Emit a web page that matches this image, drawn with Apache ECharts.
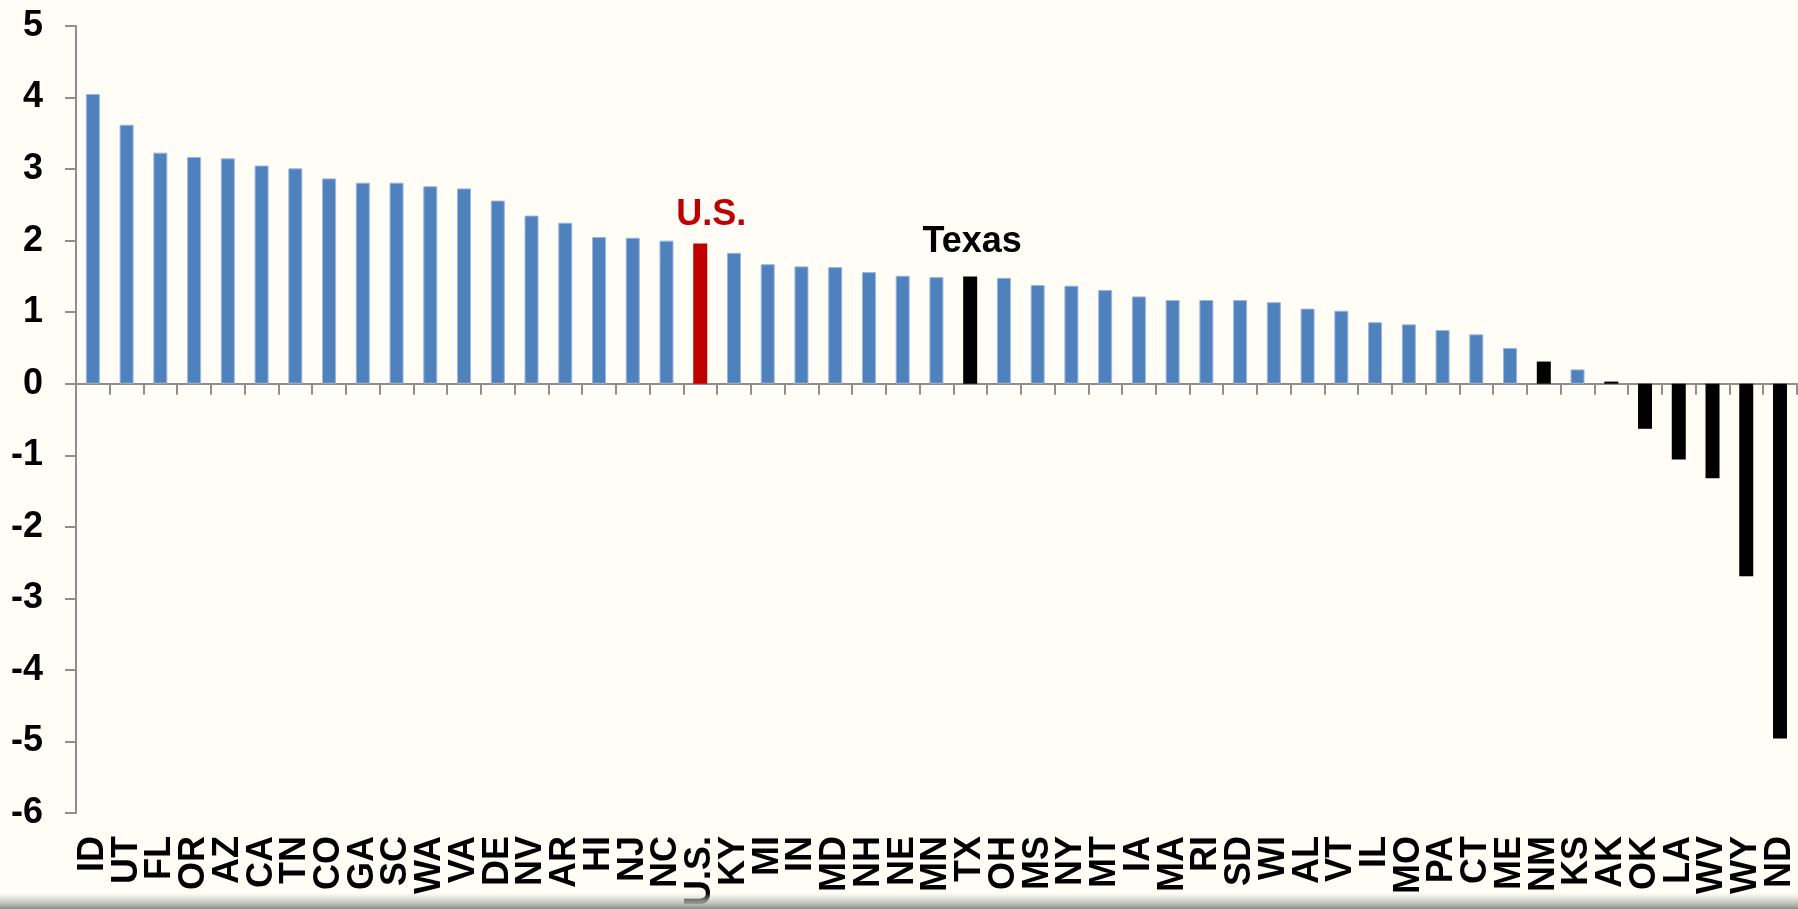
<!DOCTYPE html>
<html>
<head>
<meta charset="utf-8">
<script src="https://cdn.jsdelivr.net/npm/echarts@6/dist/echarts.min.js"></script>
<style>
  html, body { margin: 0; padding: 0; background: #FFFDF6; }
  #chart { width: 1798px; height: 909px; }
</style>
</head>
<body>
<div id="chart"></div>
<script>
const states = [
  'ID', 'UT', 'FL', 'OR', 'AZ', 'CA', 'TN', 'CO', 'GA', 'SC', 'WA', 'VA', 'DE',
  'NV', 'AR', 'HI', 'NJ', 'NC', 'U.S.', 'KY', 'MI', 'IN', 'MD', 'NH', 'NE', 'MN',
  'TX', 'OH', 'MS', 'NY', 'MT', 'IA', 'MA', 'RI', 'SD', 'WI', 'AL', 'VT', 'IL',
  'MO', 'PA', 'CT', 'ME', 'NM', 'KS', 'AK', 'OK', 'LA', 'WV', 'WY', 'ND',
];

const growth = [
  4.05, 3.62, 3.23, 3.17, 3.15, 3.05, 3.01, 2.87, 2.81, 2.81, 2.76, 2.73, 2.56,
  2.35, 2.25, 2.05, 2.04, 2.00, 1.96, 1.83, 1.67, 1.64, 1.63, 1.56, 1.51, 1.49,
  1.50, 1.48, 1.38, 1.37, 1.31, 1.22, 1.17, 1.17, 1.17, 1.14, 1.05, 1.02, 0.86,
  0.83, 0.75, 0.69, 0.50, 0.31, 0.20, 0.03, -0.63, -1.06, -1.32, -2.69, -4.96,
];

const yTicks = [-6, -5, -4, -3, -2, -1, 0, 1, 2, 3, 4, 5];

// states drawn in black, and the two bars with a name above them
const blackStates = ['TX', 'NM', 'AK', 'OK', 'LA', 'WV', 'WY', 'ND'];
const usName = 'U.S.';
const texasName = 'Texas';

const FONT = '"Liberation Sans", Arial, sans-serif';
const BLUE = '#4F81BD';
const RED = '#C00000';

function buildBars() {
  return growth.map((value, i) => {
    const state = states[i];
    if (state === usName) {
      return {
        value,
        itemStyle: { color: RED, borderWidth: 0 },
        label: {
          show: true,
          formatter: usName,
          position: 'top',
          distance: 10,
          offset: [11, 0],
          color: RED,
        },
      };
    }
    if (blackStates.includes(state)) {
      const item = { value, itemStyle: { color: '#000', borderWidth: 0 } };
      if (state === 'TX') {
        item.label = {
          show: true,
          formatter: texasName,
          position: 'top',
          distance: 16,
          offset: [2, 0],
          color: '#000',
        };
      }
      return item;
    }
    return value;
  });
}

const chart = echarts.init(document.getElementById('chart'));

chart.setOption({
  backgroundColor: '#FFFDF6',
  animation: false,
  textStyle: { fontFamily: FONT },
  grid: { left: 76, right: 1, top: 26, bottom: 92 },
  xAxis: [
    {
      // line and ticks sitting on zero
      type: 'category',
      data: states,
      axisLine: { onZero: true, lineStyle: { color: '#8E8E8E', width: 2 } },
      axisTick: { show: true, length: 11, lineStyle: { color: '#8E8E8E', width: 2 } },
      axisLabel: { show: false },
      splitLine: { show: false },
    },
    {
      // state names along the bottom
      type: 'category',
      data: states,
      position: 'bottom',
      axisLine: { show: false, onZero: false },
      axisTick: { show: false },
      axisLabel: {
        show: true,
        interval: 0,
        rotate: 90,
        margin: 23,
        color: '#000',
        fontSize: 36,
        fontWeight: 'bold',
        fontFamily: FONT,
      },
    },
  ],
  yAxis: {
    type: 'value',
    min: yTicks[0],
    max: yTicks[yTicks.length - 1],
    interval: 1,
    axisLine: { show: true, lineStyle: { color: '#8E8E8E', width: 2 } },
    axisTick: { show: true, length: 11, lineStyle: { color: '#8E8E8E', width: 2 } },
    splitLine: { show: false },
    axisLabel: {
      margin: 33,
      color: '#000',
      fontSize: 36,
      fontWeight: 'bold',
      fontFamily: FONT,
    },
  },
  series: [
    {
      type: 'bar',
      xAxisIndex: 0,
      data: buildBars(),
      barWidth: 14,
      itemStyle: { color: BLUE, borderColor: '#9BB7DD', borderWidth: 1 },
      label: { fontSize: 36, fontWeight: 'bold', fontFamily: FONT },
    },
  ],
  graphic: [
    {
      // soft grey strip along the bottom edge
      type: 'rect',
      left: 0,
      bottom: 0,
      z: 100,
      shape: { width: 1798, height: 16 },
      style: {
        fill: new echarts.graphic.LinearGradient(0, 0, 0, 1, [
          { offset: 0, color: 'rgba(200,200,195,0)' },
          { offset: 0.5, color: 'rgba(190,190,185,0.7)' },
          { offset: 1, color: 'rgba(140,140,135,1)' },
        ]),
      },
    },
  ],
});
</script>
</body>
</html>
